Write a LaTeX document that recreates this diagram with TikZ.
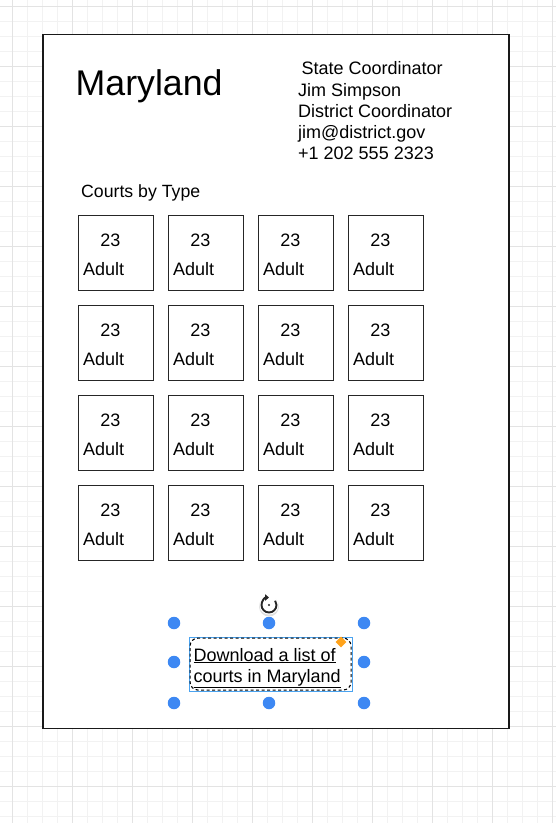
\documentclass[tikz,border=0pt]{standalone}
\usepackage{fontspec}
\setmainfont{Liberation Sans}
\usetikzlibrary{arrows.meta,shapes.geometric}
\definecolor{handleblue}{HTML}{3D88F3}
\definecolor{selblue}{HTML}{4AA3F0}
\definecolor{diamondorange}{HTML}{FFA21A}
\begin{document}
\begin{tikzpicture}[x=1pt,y=-1pt,
  gridminor/.style={draw=black!5, line width=0.9pt},
  gridmajor/.style={draw=black!11, line width=0.9pt},
  pagebox/.style={draw=black!90, line width=1.4pt, fill=white, minimum width=466pt, minimum height=694pt, inner sep=0pt, outer sep=0pt, anchor=north west},
  courtbox/.style={draw=black!85, line width=1.4pt, minimum width=75pt, minimum height=75pt, inner sep=0pt, anchor=north west},
  txt/.style={font=\fontsize{18}{21}\selectfont, inner sep=0pt},
  handle/.style={circle, fill=handleblue, minimum size=12.5pt, inner sep=0pt},
  linkbox/.style={draw=black, line width=1.1pt, dash pattern=on 3pt off 2.5pt, rounded corners=8pt, minimum width=161pt, minimum height=52pt, inner sep=0pt, anchor=north west},
  selbox/.style={draw=selblue, line width=0.9pt, minimum width=163pt, minimum height=54pt, inner sep=0pt, anchor=north west}
]
\useasboundingbox (0,0) rectangle (556,823);
\fill[white] (0,0) rectangle (556,823);
% grid
\foreach \x in {12.7,27.7,...,556} \draw[gridminor] (\x,0) -- (\x,823);
\foreach \y in {6.7,21.7,...,823} \draw[gridminor] (0,\y) -- (556,\y);
\foreach \x in {12.7,72.7,...,556} \draw[gridmajor] (\x,0) -- (\x,823);
\foreach \y in {6.7,66.7,...,823} \draw[gridmajor] (0,\y) -- (556,\y);
% page
\node[pagebox] (page) at (43,34.5) {};
% title
\node[anchor=base west, inner sep=0pt, font=\fontsize{35.7}{40}\selectfont] (title) at (75.5,95.5) {Maryland};
% coordinator info
\node[txt, anchor=base west] (l1) at (301.3,74.3) {State Coordinator};
\node[txt, anchor=base west] (l2) at (298,96.7) {Jim Simpson};
\node[txt, anchor=base west] (l3) at (298,117.7) {District Coordinator};
\node[txt, anchor=base west] (l4) at (298,138.7) {jim@district.gov};
\node[txt, anchor=base west] (l5) at (298,159.7) {+1 202 555 2323};
% section label
\node[txt, anchor=base west, font=\fontsize{17.7}{21}\selectfont] (courts) at (81,197) {Courts by Type};
% court boxes
\foreach \r in {0,...,3}{
  \foreach \c in {0,...,3}{
    \pgfmathsetmacro\bx{78+90*\c}
    \pgfmathsetmacro\by{214.5+90*\r}
    \node[courtbox] (b\r\c) at (\bx,\by) {};
    \node[txt, anchor=base] (n\r\c) at (\bx+32.3,\by+31.5) {23};
    \node[txt, anchor=base west] (t\r\c) at (\bx+5,\by+61) {Adult};
  }
}
% selected link element
\node[selbox] (sel) at (188.5,636.5) {};
\node[linkbox] (link) at (189.5,637.5) {};
\node[txt, anchor=base west, font=\fontsize{18}{21}\selectfont] (d1) at (193.5,661) {\underline{Download a list of}};
\node[txt, anchor=base west, font=\fontsize{18}{21}\selectfont] (d2) at (193.5,682) {\underline{courts in Maryland}};
% handles
\foreach \hx/\hn in {174/L,269/M,364/R}{
  \node[handle] (h\hn1) at (\hx,623) {};
  \node[handle] (h\hn3) at (\hx,703) {};
}
\node[handle] (hL2) at (174,662) {};
\node[handle] (hR2) at (364,662) {};
% orange diamond
\node[diamond, fill=diamondorange, minimum size=11pt, inner sep=0pt, shape aspect=1] (dia) at (341,642) {};
% rotation icon
\coordinate (rot) at (269,605);
\fill[black!12] (269,606.5) circle (10pt);
\fill[white] (269,605) circle (9.5pt);
\draw[line width=1.9pt, {Triangle[length=4pt,width=6.5pt]}-, black!85] ([shift={(0,-7.5)}]rot) arc[start angle=90, end angle=395, radius=7.5pt];
\fill[black!85] (rot) circle (1.1pt);
\end{tikzpicture}
\end{document}
